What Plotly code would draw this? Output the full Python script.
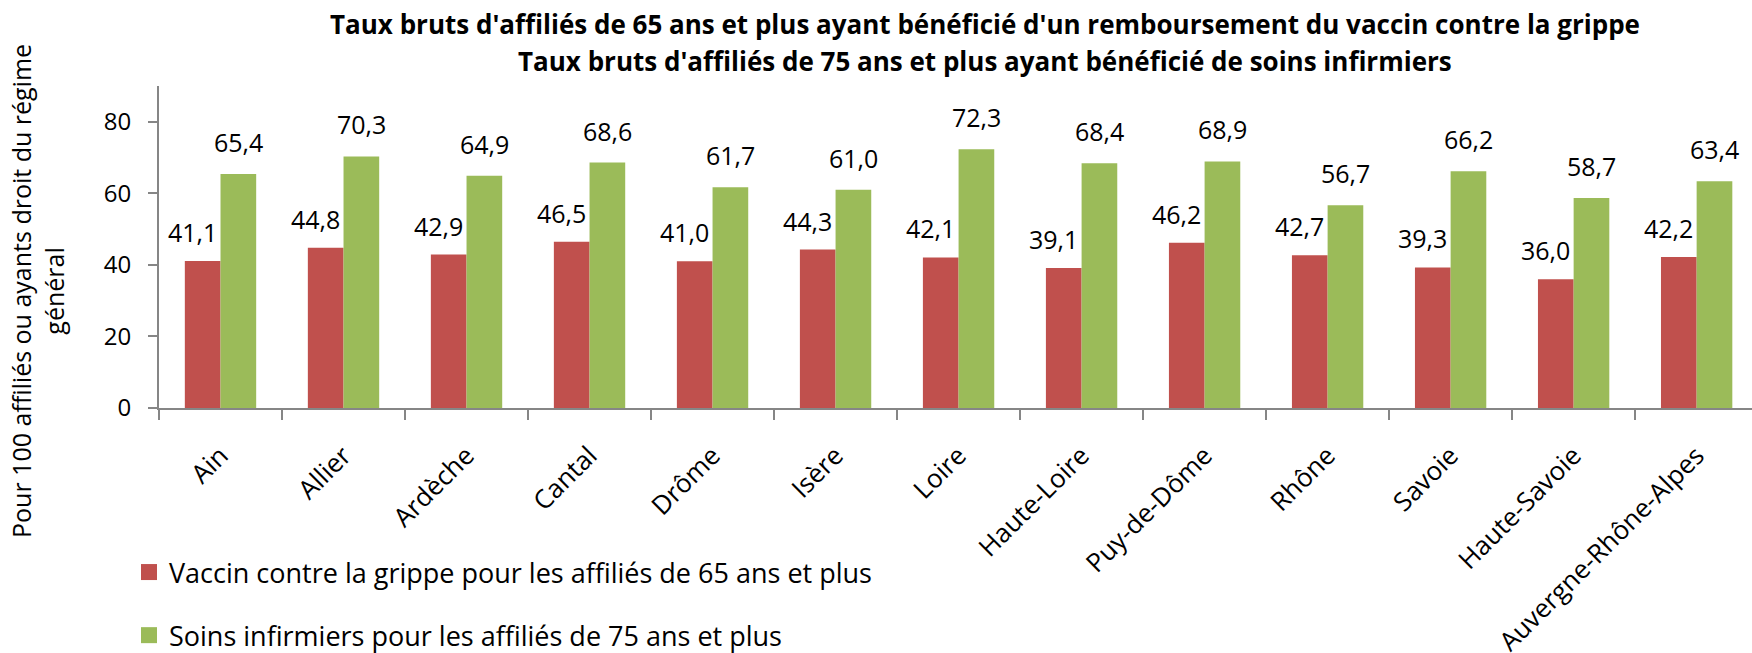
import plotly.graph_objects as go

categories = ["Ain", "Allier", "Ardèche", "Cantal", "Drôme", "Isère", "Loire",
              "Haute-Loire", "Puy-de-Dôme", "Rhône", "Savoie", "Haute-Savoie",
              "Auvergne-Rhône-Alpes"]
vaccin = [41.1, 44.8, 42.9, 46.5, 41.0, 44.3, 42.1, 39.1, 46.2, 42.7, 39.3, 36.0, 42.2]
soins = [65.4, 70.3, 64.9, 68.6, 61.7, 61.0, 72.3, 68.4, 68.9, 56.7, 66.2, 58.7, 63.4]

name_vaccin = "Vaccin contre la grippe pour les affiliés de 65 ans et plus"
name_soins = "Soins infirmiers pour les affiliés de 75 ans et plus"
title_lines = ["Taux bruts d'affiliés de 65 ans et plus ayant bénéficié d'un remboursement du vaccin contre la grippe",
               "Taux bruts d'affiliés de 75 ans et plus ayant bénéficié de soins infirmiers"]
y_title = "Pour 100 affiliés ou ayants droit du régime<br>général"

RED = "#C0504D"
GREEN = "#9BBB59"
FONT = "Open Sans"
W, H = 1752, 653
L, R, T, B = 159, 0, 86, 245
PW, PH = W - L - R, H - T - B


def px_x(px):
    return (px - L) / PW


def px_y(py):
    return (H - B - py) / PH


fig = go.Figure()
fig.add_trace(go.Bar(x=categories, y=vaccin, name=name_vaccin, marker_color=RED,
                     marker_line_width=0, showlegend=False))
fig.add_trace(go.Bar(x=categories, y=soins, name=name_soins, marker_color=GREEN,
                     marker_line_width=0, showlegend=False))
# legend proxies
fig.add_trace(go.Scatter(x=[None], y=[None], mode="markers", name=name_vaccin,
                         marker=dict(symbol="square", size=16, color=RED), legendgroup="a"))
fig.add_trace(go.Scatter(x=[None], y=[None], mode="markers", name=name_soins,
                         marker=dict(symbol="square", size=16, color=GREEN), legendgroup="b"))


def fmt(v):
    return f"{v:.1f}".replace(".", ",")


annotations = []
for c, v in zip(categories, vaccin):
    annotations.append(dict(x=c, y=v, xref="x", yref="y", text=fmt(v), showarrow=False,
                            xshift=-28, yshift=10, yanchor="bottom",
                            font=dict(family=FONT, size=25, color="#000000")))
for c, v in zip(categories, soins):
    annotations.append(dict(x=c, y=v, xref="x", yref="y", text=fmt(v), showarrow=False,
                            xshift=18, yshift=13, yanchor="bottom",
                            font=dict(family=FONT, size=25, color="#000000")))
annotations.append(dict(x=px_x(37), y=px_y(291), xref="paper", yref="paper", text=y_title,
                        textangle=-90, showarrow=False, xanchor="center", yanchor="middle",
                        font=dict(family=FONT, size=25, color="#000000")))
for txt, py in zip(title_lines, [24, 61]):
    annotations.append(dict(x=px_x(985), y=px_y(py), xref="paper", yref="paper",
                            text="<b>" + txt + "</b>", showarrow=False,
                            xanchor="center", yanchor="middle",
                            font=dict(family=FONT, size=26, color="#000000")))

fig.update_layout(
    width=W, height=H,
    margin=dict(l=L, r=R, t=T, b=B, pad=0, autoexpand=False),
    paper_bgcolor="white", plot_bgcolor="white",
    barmode="group", bargap=0.42, bargroupgap=0,
    font=dict(family=FONT, size=24, color="#000000"),
    annotations=annotations,
    legend=dict(x=px_x(129), y=px_y(548), xanchor="left", yanchor="top",
                traceorder="grouped", tracegroupgap=25,
                font=dict(family=FONT, size=27, color="#000000"),
                bgcolor="rgba(0,0,0,0)"),
    showlegend=True,
)
fig.update_xaxes(type="category", range=[-0.5, 12.45], showline=True, linecolor="#868686",
                 linewidth=2, ticks="outside", tickson="boundaries", ticklen=10,
                 tickcolor="#868686", tickwidth=2, tickangle=-45, showgrid=False,
                 automargin=False,
                 tickfont=dict(family=FONT, size=26, color="#000000"), ticklabelstandoff=20)
fig.update_yaxes(range=[0, 90], tickvals=[0, 20, 40, 60, 80], showline=True,
                 linecolor="#868686", linewidth=2, ticks="outside", ticklen=9,
                 tickcolor="#868686", tickwidth=2, showgrid=False, zeroline=False,
                 automargin=False,
                 tickfont=dict(family=FONT, size=24, color="#000000"), ticklabelstandoff=12)

fig.write_html("out.html", config={"displayModeBar": False},
               post_script="document.body.style.margin='0px';")
